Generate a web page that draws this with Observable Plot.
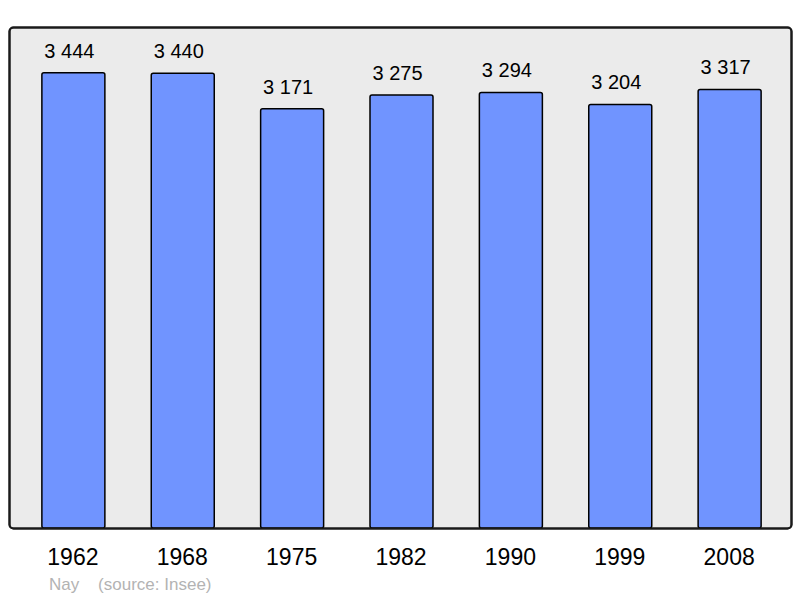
<!DOCTYPE html>
<html>
<head>
<meta charset="utf-8">
<script src="https://cdn.jsdelivr.net/npm/d3@7"></script>
<script src="https://cdn.jsdelivr.net/npm/@observablehq/plot@0.6"></script>
<style>
  html, body { margin: 0; padding: 0; background: #ffffff; }
  #chart { position: relative; width: 800px; height: 598px; }
  #caption { position: absolute; left: 49px; top: 575px; font-family: "Liberation Sans", Arial, sans-serif; font-size: 17px; color: #b3b3b3; white-space: pre; }
</style>
</head>
<body>
<div id="chart"></div>
<script>
const years = ["1962", "1968", "1975", "1982", "1990", "1999", "2008"];
const population = [3444, 3440, 3171, 3275, 3294, 3204, 3317];
const valueLabels = ["3 444", "3 440", "3 171", "3 275", "3 294", "3 204", "3 317"];
const captionText = "Nay    (source: Insee)";

const data = years.map((y, i) => ({year: y, pop: population[i], label: valueLabels[i]}));

const chart = Plot.plot({
  width: 800,
  height: 598,
  marginLeft: 9,
  marginRight: 9,
  marginTop: 27,
  marginBottom: 70,
  style: {fontFamily: "'Liberation Sans', Arial, sans-serif", background: "#ffffff", color: "#000"},
  x: {domain: years, round: false, paddingInner: 0.424, paddingOuter: 0.2, insetLeft: 11, insetRight: 8, label: null},
  y: {domain: [0, 3790], axis: null},
  marks: [
    Plot.frame({fill: "#ebebeb", stroke: "#1a1a1a", strokeWidth: 2, rx: 4}),
    Plot.barY(data, {x: "year", y: "pop", fill: "#7094ff", stroke: "#000", strokeWidth: 1.5, rx: 2}),
    Plot.text(data, {x: "year", y: "pop", text: "label", dy: -22, dx: -4.5, fontSize: 20, fill: "#000"}),
    Plot.axisX({tickSize: 0, tickPadding: 0, fontSize: 23, dy: 20, dx: -1, label: null, fill: "#000"}),
    Plot.frame({fill: "none", stroke: "#1a1a1a", strokeWidth: 2, rx: 4})
  ]
});
document.getElementById("chart").appendChild(chart);
const cap = document.createElement("div");
cap.id = "caption";
cap.textContent = captionText;
document.getElementById("chart").appendChild(cap);
</script>
</body>
</html>
